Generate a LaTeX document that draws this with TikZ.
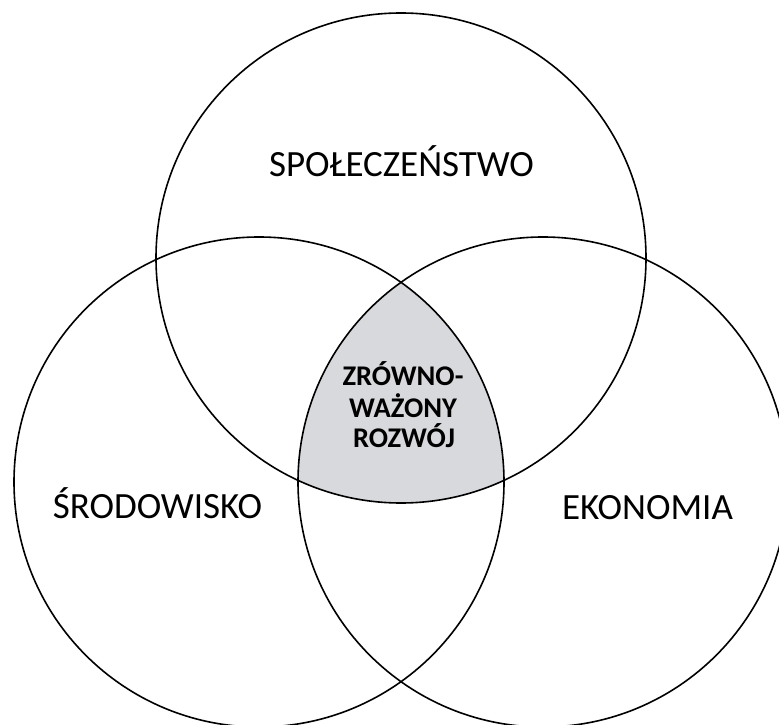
\documentclass[tikz,border=0pt]{standalone}
\usepackage{fontspec}
\setmainfont{Carlito}
\definecolor{lensgray}{RGB}{216,217,220}
\begin{document}
\begin{tikzpicture}[x=1pt,y=1pt,
  ring/.style={circle,draw=black,line width=1.6pt,minimum size=490pt,inner sep=0pt},
  biglabel/.style={font=\fontsize{37}{44}\selectfont,anchor=base,inner sep=0pt},
  corelabel/.style={font=\bfseries\fontsize{28.5}{31}\selectfont,anchor=base,inner sep=0pt}]
\useasboundingbox (0,0) rectangle (779,724);
\fill[white] (0,0) rectangle (779,724);
\begin{scope}
  \clip (259,242) circle[radius=245pt];
  \clip (543,242) circle[radius=245pt];
  \fill[lensgray] (401,466) circle[radius=245pt];
\end{scope}
\node[ring] (soc) at (401,466) {};
\node[ring] (env) at (259,242) {};
\node[ring] (eco) at (543,242) {};
\node[biglabel] (tsoc) at (401.5,547) {SPOŁECZEŃSTWO};
\node[biglabel] (tenv) at (157.5,206) {ŚRODOWISKO};
\node[biglabel] (teco) at (647.5,205) {EKONOMIA};
\node[corelabel] (z1) at (403,339) {ZRÓWNO-};
\node[corelabel] (z2) at (403,307) {WAŻONY};
\node[corelabel] (z3) at (404,277) {ROZWÓJ};
\end{tikzpicture}
\end{document}
